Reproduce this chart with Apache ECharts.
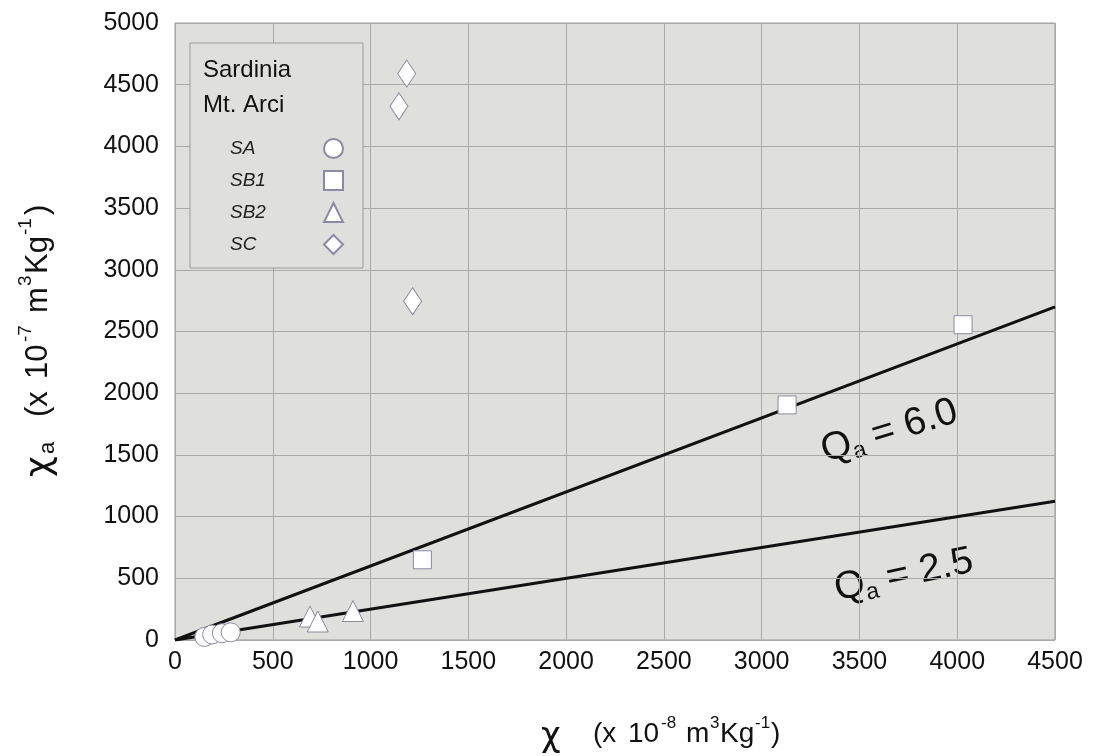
<!DOCTYPE html>
<html>
<head>
<meta charset="utf-8">
<script src="https://cdn.jsdelivr.net/npm/echarts@6/dist/echarts.min.js"></script>
<style>
html,body{margin:0;padding:0;background:#fff;}
#c{width:1096px;height:756px;}
</style>
</head>
<body>
<div id="c"></div>
<script>
// ---- data ----
var xTicks = [0, 500, 1000, 1500, 2000, 2500, 3000, 3500, 4000, 4500];
var yTicks = [0, 500, 1000, 1500, 2000, 2500, 3000, 3500, 4000, 4500, 5000];
var SA  = [[150, 25], [190, 45], [240, 55], [285, 62]];
var SB1 = [[1265, 650], [3130, 1905], [4030, 2555]];
var SB2 = [[690, 190], [730, 150], [910, 235]];
var SC  = [[1185, 4590], [1145, 4325], [1215, 2745]];
var lineQ60 = [[0, 0], [4500, 2700]];
var lineQ25 = [[0, 0], [4500, 1125]];
var seriesNames = ['SA', 'SB1', 'SB2', 'SC'];

var FONT = '"Liberation Sans", Arial, sans-serif';
var CHIFONT = '"DejaVu Sans", sans-serif';
var chart = echarts.init(document.getElementById('c'));

// text pieces placed at given offsets along a baseline (for super/subscripts)
function pieces(list) {
  return list.map(function (p) {
    var font = p.size + 'px ' + (p.family || FONT);
    return {type: 'text', x: p.x, y: p.dy || 0,
      style: {text: p.text, font: font, fill: '#111', verticalAlign: 'middle', align: 'left'}};
  });
}

var markerStyle = {color: '#ffffff', borderColor: '#8a8aa6', borderWidth: 1, opacity: 1};

function scatter(name, data, symbol, size) {
  return {
    name: name, type: 'scatter', data: data, symbol: symbol, symbolSize: size,
    itemStyle: markerStyle, z: 5, emphasis: {disabled: true}
  };
}
function qLine(data) {
  return {
    type: 'line', data: data, symbol: 'none', z: 3, silent: true,
    lineStyle: {color: '#111111', width: 3}
  };
}

var xName = pieces([
  {text: 'χ', x: 541, size: 34, family: CHIFONT, dy: 3},
  {text: '(x', x: 593, size: 28},
  {text: '10', x: 628, size: 28},
  {text: '-8', x: 661, size: 17, dy: -11},
  {text: 'm', x: 686, size: 28},
  {text: '3', x: 710, size: 17, dy: -11},
  {text: 'Kg', x: 720, size: 28},
  {text: '-1', x: 755, size: 17, dy: -11},
  {text: ')', x: 771, size: 28}
]);
var yName = pieces([
  {text: 'χ', x: 0, size: 36, family: CHIFONT, dy: 3},
  {text: 'a', x: 23, size: 22, dy: 10},
  {text: '(x', x: 60, size: 31},
  {text: '10', x: 98, size: 31},
  {text: '-7', x: 135, size: 19, dy: -12},
  {text: 'm', x: 164, size: 31},
  {text: '3', x: 191, size: 19, dy: -12},
  {text: 'Kg', x: 203, size: 31},
  {text: '-1', x: 242, size: 19, dy: -12},
  {text: ')', x: 262, size: 31}
]);
function qLabel(val) {
  return pieces([
    {text: 'Q', x: 0, size: 39},
    {text: 'a', x: 30, size: 23, dy: 10},
    {text: '= ' + val, x: 53, size: 39}
  ]);
}

chart.setOption({
  animation: false,
  backgroundColor: '#ffffff',
  grid: {
    left: 175, right: 41, top: 23, bottom: 116,
    show: true, backgroundColor: '#dfdfdc', borderColor: '#9a9a9a', borderWidth: 1
  },
  xAxis: {
    type: 'value', min: xTicks[0], max: xTicks[xTicks.length - 1], interval: 500,
    axisLine: {show: false}, axisTick: {show: false},
    axisLabel: {fontFamily: FONT, fontSize: 25, color: '#111', margin: 10,
      formatter: function (v) { return String(v); }},
    splitLine: {show: true, lineStyle: {color: '#a9a9a9', width: 1}}
  },
  yAxis: {
    type: 'value', min: yTicks[0], max: yTicks[yTicks.length - 1], interval: 500,
    axisLine: {show: false}, axisTick: {show: false},
    axisLabel: {fontFamily: FONT, fontSize: 25, color: '#111', margin: 16,
      formatter: function (v) { return String(v); }},
    splitLine: {show: true, lineStyle: {color: '#a9a9a9', width: 1}}
  },
  legend: {
    data: seriesNames, orient: 'vertical', left: 190, top: 43, align: 'right',
    padding: [95, 19, 13, 40], itemGap: 11, itemWidth: 19, itemHeight: 19,
    backgroundColor: '#dfdfdc', borderColor: '#9a9a9a', borderWidth: 1,
    selectedMode: false,
    formatter: '{a|{name}}',
    textStyle: {
      rich: {a: {fontFamily: FONT, fontSize: 19, fontStyle: 'italic', color: '#222',
                 width: 89, align: 'left'}}
    }
  },
  graphic: [
    {type: 'text', left: 203, top: 58, z: 100,
     style: {text: 'Sardinia', font: '24px ' + FONT, fill: '#111'}},
    {type: 'text', left: 203, top: 93, z: 100,
     style: {text: 'Mt. Arci', font: '24px ' + FONT, fill: '#111'}},
    {type: 'group', x: 0, y: 734, z: 100, children: xName},
    {type: 'group', x: 38, y: 477, rotation: Math.PI / 2, z: 100, children: yName},
    {type: 'group', x: 822, y: 452, rotation: 17 * Math.PI / 180, z: 100, children: qLabel('6.0')},
    {type: 'group', x: 835, y: 590, rotation: 12 * Math.PI / 180, z: 100, children: qLabel('2.5')}
  ],
  series: [
    qLine(lineQ60),
    qLine(lineQ25),
    scatter('SA', SA, 'circle', 19),
    scatter('SB1', SB1, 'rect', 18),
    scatter('SB2', SB2, 'triangle', 21),
    scatter('SC', SC, 'diamond', [18, 27])
  ]
});
</script>
</body>
</html>
